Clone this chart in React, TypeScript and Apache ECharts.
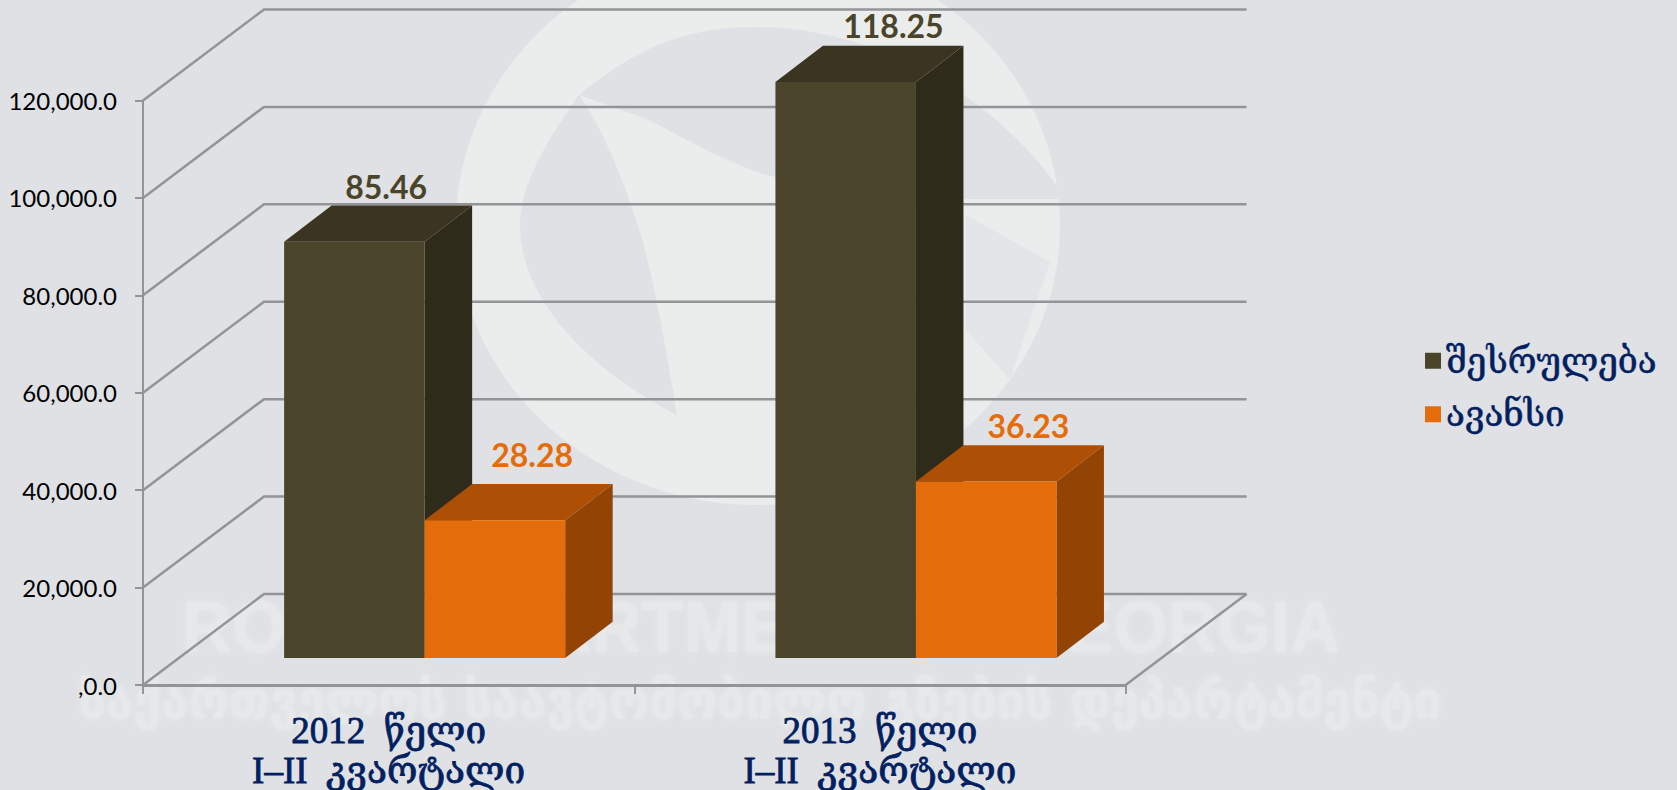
import React, { useEffect, useRef } from "react";
import * as echarts from "echarts";

const categories = ["2012  წელი\nI–II  კვარტალი", "2013  წელი\nI–II  კვარტალი"];
const seriesNames = ["შესრულება", "ავანსი"];
const performance = [85460, 118250];
const advance = [28280, 36230];
const yTicks = [0, 20000, 40000, 60000, 80000, 100000, 120000];
const yTickLabels = [",0.0", "20,000.0", "40,000.0", "60,000.0", "80,000.0", "100,000.0", "120,000.0"];

const WALL_DX = 121;
const WALL_DY = 91;
const BAR_RATIO = 0.286;
const BAR_SHIFT_X = 36;
const BAR_SHIFT_Y = 27;
const BAR_DEPTH_X = 47.5;
const BAR_DEPTH_Y = 36.3;
const GRID_COLOR = "#939497";
const NAVY = "#002060";
const FACES = [
  { front: "#4a442a", side: "#2f2b1a", top: "#3b3420", label: "#4a442a" },
  { front: "#e46c0a", side: "#934405", top: "#ad5005", label: "#e46c0a" },
];
const LABEL_NUDGE = [
  [[102, -19], [118, -20]],
  [[107.5, -29], [112.5, -20]],
];

const BG = "#dfe1e5";
const LIGHT = "#ebecec";
const WM_TEXT = "#e7e8ea";
echarts.graphic.registerShape("wmTop", echarts.graphic.extendPath("M579 95 C640 45 690 27 755 27 C870 27 990 90 1060 190 L1060 199 L966 199 C900 195 830 190 766 175 C720 160 680 135 644 118 Z", {}) as any);
echarts.graphic.registerShape("wmLeft", echarts.graphic.extendPath("M579 95 C540 150 520 190 520 225 C520 300 590 370 677 415 C665 340 650 260 636 220 C620 170 600 125 579 95 Z", {}) as any);

function barRenderer(s: number) {
  return (params: any, api: any) => {
    const idx = api.value(0);
    const val = api.value(1);
    const band = api.size([1, 0])[0];
    const w = band * BAR_RATIO;
    const c = api.coord([idx, 0]);
    const top = api.coord([idx, val])[1] - BAR_SHIFT_Y;
    const base = c[1] - BAR_SHIFT_Y;
    const l = c[0] - w + s * w + BAR_SHIFT_X;
    const r = l + w;
    const f = FACES[s];
    const [nx, ny] = LABEL_NUDGE[s][idx];
    return {
      type: "group",
      children: [
        { type: "polygon", shape: { points: [[r, top], [r + BAR_DEPTH_X, top - BAR_DEPTH_Y], [r + BAR_DEPTH_X, base - BAR_DEPTH_Y], [r, base]] }, style: { fill: f.side } },
        { type: "polygon", shape: { points: [[l, top], [l + BAR_DEPTH_X, top - BAR_DEPTH_Y], [r + BAR_DEPTH_X, top - BAR_DEPTH_Y], [r, top]] }, style: { fill: f.top } },
        { type: "rect", shape: { x: l, y: top, width: w, height: base - top }, style: { fill: f.front } },
        { type: "text", x: l + nx, y: top - BAR_DEPTH_Y + ny, style: { text: (val / 1000).toFixed(2), fill: f.label, font: "bold 32px Lato", align: "center", verticalAlign: "middle" } },
      ],
    };
  };
}

function wallRenderer(params: any, api: any) {
  const v = api.value(1);
  const cs = params.coordSys;
  const y = api.coord([0, v])[1];
  const x0 = cs.x;
  const x1 = cs.x + cs.width;
  const children: any[] = [
    { type: "polyline", shape: { points: [[x0, y], [x0 + WALL_DX, y - WALL_DY], [x1 + WALL_DX, y - WALL_DY]] }, style: { stroke: GRID_COLOR, lineWidth: 2.5, fill: "none" } },
  ];
  if (v === 0) {
    children.push({ type: "line", shape: { x1, y1: y, x2: x1 + WALL_DX, y2: y - WALL_DY }, style: { stroke: GRID_COLOR, lineWidth: 2.5 } });
  }
  return { type: "group", children };
}

export default function App() {
  const ref = useRef<HTMLDivElement>(null);
  useEffect(() => {
    document.body.style.margin = "0";
    const chart = echarts.init(ref.current!, null, { renderer: "svg" });
    chart.setOption({
      animation: false,
      backgroundColor: BG,
      grid: { left: 143, right: 551.4, top: 100.5, bottom: 102 },
      graphic: [
        { type: "ellipse", z: 0, silent: true, shape: { cx: 758, cy: 225, rx: 302, ry: 280 }, style: { fill: LIGHT } },
        { type: "wmTop", z: 0, silent: true, style: { fill: BG } },
        { type: "wmLeft", z: 0, silent: true, style: { fill: BG } },
        { type: "polygon", z: 0, silent: true, shape: { points: [[966, 215], [1050, 262], [1010, 380], [966, 330]] }, style: { fill: "#e4e5e8" } },
        { type: "text", z: 0, silent: true, x: 182, y: 627, scaleX: 0.96, style: { text: "ROAD DEPARTMENT OF GEORGIA", font: "bold 72px 'Liberation Sans'", fill: WM_TEXT, align: "left", verticalAlign: "middle", textShadowColor: WM_TEXT, textShadowBlur: 6 } },
        { type: "text", z: 0, silent: true, x: 78, y: 700, scaleX: 0.95, style: { text: "საქართველოს საავტომობილო გზების დეპარტამენტი", font: "bold 52px 'DejaVu Sans'", fill: WM_TEXT, align: "left", verticalAlign: "middle", textShadowColor: WM_TEXT, textShadowBlur: 6 } },
      ],
      legend: {
        data: seriesNames,
        orient: "vertical",
        left: 1420,
        top: 338,
        icon: "rect",
        itemWidth: 16,
        itemHeight: 16,
        itemGap: 18,
        textStyle: { color: NAVY, fontFamily: "'DejaVu Serif'", fontSize: 35, textBorderColor: NAVY, textBorderWidth: 0.5 },
      },
      xAxis: {
        type: "category",
        data: categories,
        boundaryGap: true,
        axisLine: { show: true, lineStyle: { color: GRID_COLOR, width: 3 } },
        axisTick: { show: true, length: 9, lineStyle: { color: GRID_COLOR, width: 2 } },
        axisLabel: { margin: 25, color: NAVY, fontFamily: "'Liberation Serif','DejaVu Serif'", fontSize: 37, lineHeight: 40, textBorderColor: NAVY, textBorderWidth: 0.8 },
      },
      yAxis: {
        type: "value",
        min: 0,
        max: 120000,
        interval: 20000,
        splitLine: { show: false },
        axisLine: { show: true, lineStyle: { color: GRID_COLOR, width: 2 } },
        axisTick: { show: true, length: 8, lineStyle: { color: GRID_COLOR, width: 2 } },
        axisLabel: {
          margin: 26,
          color: "#000",
          fontFamily: "Lato",
          fontSize: 24,
          formatter: (v: number) => yTickLabels[yTicks.indexOf(v)],
        },
      },
      series: [
        { type: "custom", name: "walls", data: yTicks.map((v) => [0, v]), renderItem: wallRenderer, clip: false, z: 1, silent: true },
        { type: "custom", name: seriesNames[0], data: performance.map((v, i) => [i, v]), renderItem: barRenderer(0), clip: false, z: 2, itemStyle: { color: FACES[0].front }, encode: { x: 0, y: 1 } },
        { type: "custom", name: seriesNames[1], data: advance.map((v, i) => [i, v]), renderItem: barRenderer(1), clip: false, z: 3, itemStyle: { color: FACES[1].front }, encode: { x: 0, y: 1 } },
      ],
    });
    return () => chart.dispose();
  }, []);
  return <div ref={ref} style={{ width: 1677, height: 790 }} />;
}
